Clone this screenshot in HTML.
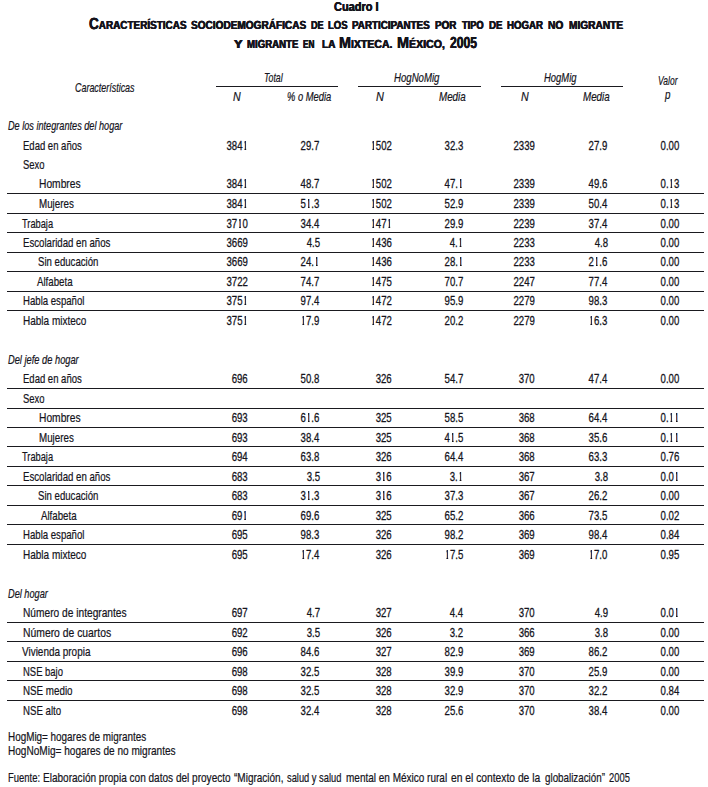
<!DOCTYPE html>
<html lang="es"><head><meta charset="utf-8"><title>Cuadro I</title>
<style>
html,body{margin:0;padding:0;background:#fff;}
body{width:708px;height:787px;position:relative;overflow:hidden;font-family:"Liberation Sans",sans-serif;color:#15141c;}
.t{position:absolute;white-space:nowrap;font-size:13px;line-height:16px;height:16px;display:block;transform-origin:0 0;-webkit-text-stroke:0.22px #15141c;}
.t.r{transform-origin:100% 0;-webkit-text-stroke-width:0.3px;}
.i{font-style:italic;}
.o{display:inline-block;clip-path:inset(3.1px 0.19em 4px 0.214em);-webkit-text-stroke:0.7px #15141c;}
.b{font-weight:bold;-webkit-text-stroke:0;text-shadow:0.35px 0 0 #15141c,-0.35px 0 0 #15141c;}
.T{text-rendering:geometricPrecision;font-size:16px;line-height:20px;height:20px;}
.sc{font-size:11.7px;line-height:0;}
.h{position:absolute;height:1px;background:#1a1a1f;}
</style></head><body>

<div class="t b" style="left:333.80px;top:-1px;transform:scaleX(0.8459)">Cuadro I</div>
<div class="t b T" style="left:89.40px;top:15px;transform:scaleX(0.8493)">C<span class="sc">ARACTERÍSTICAS</span></div>
<div class="t b T" style="left:191.00px;top:15px;transform:scaleX(0.8610)"><span class="sc">SOCIODEMOGRÁFICAS</span></div>
<div class="t b T" style="left:310.90px;top:15px;transform:scaleX(0.7815)"><span class="sc">DE</span></div>
<div class="t b T" style="left:328.10px;top:15px;transform:scaleX(0.8148)"><span class="sc">LOS</span></div>
<div class="t b T" style="left:352.00px;top:15px;transform:scaleX(0.8409)"><span class="sc">PARTICIPANTES</span></div>
<div class="t b T" style="left:435.20px;top:15px;transform:scaleX(0.8480)"><span class="sc">POR</span></div>
<div class="t b T" style="left:461.80px;top:15px;transform:scaleX(0.7910)"><span class="sc">TIPO</span></div>
<div class="t b T" style="left:488.50px;top:15px;transform:scaleX(0.8307)"><span class="sc">DE</span></div>
<div class="t b T" style="left:507.00px;top:15px;transform:scaleX(0.8290)"><span class="sc">HOGAR</span></div>
<div class="t b T" style="left:548.20px;top:15px;transform:scaleX(0.8718)"><span class="sc">NO</span></div>
<div class="t b T" style="left:568.60px;top:15px;transform:scaleX(0.8686)"><span class="sc">MIGRANTE</span></div>
<div class="t b T" style="left:234.40px;top:34px;transform:scaleX(1.1020)"><span class="sc">Y</span></div>
<div class="t b T" style="left:247.30px;top:34px;transform:scaleX(0.8238)"><span class="sc">MIGRANTE</span></div>
<div class="t b T" style="left:302.90px;top:34px;transform:scaleX(0.7015)"><span class="sc">EN</span></div>
<div class="t b T" style="left:321.60px;top:34px;transform:scaleX(0.8592)"><span class="sc">LA</span></div>
<div class="t b T" style="left:339.10px;top:34px;transform:scaleX(0.8994)">M<span class="sc">IXTECA.</span></div>
<div class="t b T" style="left:396.60px;top:34px;transform:scaleX(0.9039)">M<span class="sc">ÉXICO,</span></div>
<div class="t b T" style="left:449.50px;top:34px;transform:scaleX(0.7584)">2005</div>
<div class="t i" style="top:80px;transform:scaleX(0.7038);font-size:12.7px;left:74.70px;">Características</div>
<div class="t i" style="top:70px;transform:scaleX(0.6909);font-size:12.7px;left:264.20px;">Total</div>
<div class="t i" style="top:70px;transform:scaleX(0.7584);font-size:12.7px;left:394.00px;">HogNoMig</div>
<div class="t i" style="top:70px;transform:scaleX(0.7426);font-size:12.7px;left:543.80px;">HogMig</div>
<div class="t i" style="top:89px;transform:scaleX(0.8386);font-size:12.7px;left:233.00px;">N</div>
<div class="t i" style="top:89px;transform:scaleX(0.7366);font-size:12.7px;left:287.20px;">% o Media</div>
<div class="t i" style="top:89px;transform:scaleX(0.8604);font-size:12.7px;left:376.40px;">N</div>
<div class="t i" style="top:89px;transform:scaleX(0.7718);font-size:12.7px;left:439.00px;">Media</div>
<div class="t i" style="top:89px;transform:scaleX(0.8386);font-size:12.7px;left:520.50px;">N</div>
<div class="t i" style="top:89px;transform:scaleX(0.7718);font-size:12.7px;left:582.70px;">Media</div>
<div class="t i" style="top:73px;transform:scaleX(0.6688);font-size:12.7px;left:658.20px;">Valor</div>
<div class="t i" style="top:87px;transform:scaleX(0.7725);font-size:12.7px;left:664.85px;">p</div>
<div class="t i" style="top:118px;transform:scaleX(0.7207);font-size:12.7px;left:7.90px;">De los integrantes del hogar</div>
<div class="t i" style="top:352px;transform:scaleX(0.7318);font-size:12.7px;left:7.90px;">Del jefe de hogar</div>
<div class="t i" style="top:586px;transform:scaleX(0.7243);font-size:12.7px;left:7.90px;">Del hogar</div>
<div class="t" style="top:138px;transform:scaleX(0.7501);font-size:12.7px;left:23.00px;">Edad en años</div>
<div class="t r" style="top:138px;transform:scaleX(0.7406);right:460.20px;">384<span class="o">1</span></div>
<div class="t r" style="top:138px;transform:scaleX(0.7406);right:388.40px;">29.7</div>
<div class="t r" style="top:138px;transform:scaleX(0.7406);right:316.40px;"><span class="o">1</span>502</div>
<div class="t r" style="top:138px;transform:scaleX(0.7406);right:245.00px;">32.3</div>
<div class="t r" style="top:138px;transform:scaleX(0.7406);right:173.10px;">2339</div>
<div class="t r" style="top:138px;transform:scaleX(0.7406);right:100.40px;">27.9</div>
<div class="t r" style="top:138px;transform:scaleX(0.7406);right:29.20px;">0.00</div>
<div class="t" style="top:157px;transform:scaleX(0.7463);font-size:12.7px;left:23.00px;">Sexo</div>
<div class="t" style="top:176px;transform:scaleX(0.8074);font-size:12.7px;left:38.60px;">Hombres</div>
<div class="t r" style="top:176px;transform:scaleX(0.7406);right:460.20px;">384<span class="o">1</span></div>
<div class="t r" style="top:176px;transform:scaleX(0.7406);right:388.40px;">48.7</div>
<div class="t r" style="top:176px;transform:scaleX(0.7406);right:316.40px;"><span class="o">1</span>502</div>
<div class="t r" style="top:176px;transform:scaleX(0.7406);right:245.00px;">47.<span class="o">1</span></div>
<div class="t r" style="top:176px;transform:scaleX(0.7406);right:173.10px;">2339</div>
<div class="t r" style="top:176px;transform:scaleX(0.7406);right:100.40px;">49.6</div>
<div class="t r" style="top:176px;transform:scaleX(0.7406);right:29.20px;">0.<span class="o">1</span>3</div>
<div class="t" style="top:196px;transform:scaleX(0.7704);font-size:12.7px;left:38.60px;">Mujeres</div>
<div class="t r" style="top:196px;transform:scaleX(0.7406);right:460.20px;">384<span class="o">1</span></div>
<div class="t r" style="top:196px;transform:scaleX(0.7406);right:388.40px;">5<span class="o">1</span>.3</div>
<div class="t r" style="top:196px;transform:scaleX(0.7406);right:316.40px;"><span class="o">1</span>502</div>
<div class="t r" style="top:196px;transform:scaleX(0.7406);right:245.00px;">52.9</div>
<div class="t r" style="top:196px;transform:scaleX(0.7406);right:173.10px;">2339</div>
<div class="t r" style="top:196px;transform:scaleX(0.7406);right:100.40px;">50.4</div>
<div class="t r" style="top:196px;transform:scaleX(0.7406);right:29.20px;">0.<span class="o">1</span>3</div>
<div class="t" style="top:216px;transform:scaleX(0.7301);font-size:12.7px;left:22.40px;">Trabaja</div>
<div class="t r" style="top:216px;transform:scaleX(0.7406);right:460.20px;">37<span class="o">1</span>0</div>
<div class="t r" style="top:216px;transform:scaleX(0.7406);right:388.40px;">34.4</div>
<div class="t r" style="top:216px;transform:scaleX(0.7406);right:316.40px;"><span class="o">1</span>47<span class="o">1</span></div>
<div class="t r" style="top:216px;transform:scaleX(0.7406);right:245.00px;">29.9</div>
<div class="t r" style="top:216px;transform:scaleX(0.7406);right:173.10px;">2239</div>
<div class="t r" style="top:216px;transform:scaleX(0.7406);right:100.40px;">37.4</div>
<div class="t r" style="top:216px;transform:scaleX(0.7406);right:29.20px;">0.00</div>
<div class="t" style="top:235px;transform:scaleX(0.7594);font-size:12.7px;left:23.30px;">Escolaridad en años</div>
<div class="t r" style="top:235px;transform:scaleX(0.7406);right:460.20px;">3669</div>
<div class="t r" style="top:235px;transform:scaleX(0.7406);right:388.40px;">4.5</div>
<div class="t r" style="top:235px;transform:scaleX(0.7406);right:316.40px;"><span class="o">1</span>436</div>
<div class="t r" style="top:235px;transform:scaleX(0.7406);right:245.00px;">4.<span class="o">1</span></div>
<div class="t r" style="top:235px;transform:scaleX(0.7406);right:173.10px;">2233</div>
<div class="t r" style="top:235px;transform:scaleX(0.7406);right:100.40px;">4.8</div>
<div class="t r" style="top:235px;transform:scaleX(0.7406);right:29.20px;">0.00</div>
<div class="t" style="top:254px;transform:scaleX(0.7571);font-size:12.7px;left:38.20px;">Sin educación</div>
<div class="t r" style="top:254px;transform:scaleX(0.7406);right:460.20px;">3669</div>
<div class="t r" style="top:254px;transform:scaleX(0.7406);right:388.40px;">24.<span class="o">1</span></div>
<div class="t r" style="top:254px;transform:scaleX(0.7406);right:316.40px;"><span class="o">1</span>436</div>
<div class="t r" style="top:254px;transform:scaleX(0.7406);right:245.00px;">28.<span class="o">1</span></div>
<div class="t r" style="top:254px;transform:scaleX(0.7406);right:173.10px;">2233</div>
<div class="t r" style="top:254px;transform:scaleX(0.7406);right:100.40px;">2<span class="o">1</span>.6</div>
<div class="t r" style="top:254px;transform:scaleX(0.7406);right:29.20px;">0.00</div>
<div class="t" style="top:274px;transform:scaleX(0.7638);font-size:12.7px;left:37.30px;">Alfabeta</div>
<div class="t r" style="top:274px;transform:scaleX(0.7406);right:460.20px;">3722</div>
<div class="t r" style="top:274px;transform:scaleX(0.7406);right:388.40px;">74.7</div>
<div class="t r" style="top:274px;transform:scaleX(0.7406);right:316.40px;"><span class="o">1</span>475</div>
<div class="t r" style="top:274px;transform:scaleX(0.7406);right:245.00px;">70.7</div>
<div class="t r" style="top:274px;transform:scaleX(0.7406);right:173.10px;">2247</div>
<div class="t r" style="top:274px;transform:scaleX(0.7406);right:100.40px;">77.4</div>
<div class="t r" style="top:274px;transform:scaleX(0.7406);right:29.20px;">0.00</div>
<div class="t" style="top:293px;transform:scaleX(0.7574);font-size:12.7px;left:23.30px;">Habla español</div>
<div class="t r" style="top:293px;transform:scaleX(0.7406);right:460.20px;">375<span class="o">1</span></div>
<div class="t r" style="top:293px;transform:scaleX(0.7406);right:388.40px;">97.4</div>
<div class="t r" style="top:293px;transform:scaleX(0.7406);right:316.40px;"><span class="o">1</span>472</div>
<div class="t r" style="top:293px;transform:scaleX(0.7406);right:245.00px;">95.9</div>
<div class="t r" style="top:293px;transform:scaleX(0.7406);right:173.10px;">2279</div>
<div class="t r" style="top:293px;transform:scaleX(0.7406);right:100.40px;">98.3</div>
<div class="t r" style="top:293px;transform:scaleX(0.7406);right:29.20px;">0.00</div>
<div class="t" style="top:313px;transform:scaleX(0.7879);font-size:12.7px;left:23.30px;">Habla mixteco</div>
<div class="t r" style="top:313px;transform:scaleX(0.7406);right:460.20px;">375<span class="o">1</span></div>
<div class="t r" style="top:313px;transform:scaleX(0.7406);right:388.40px;"><span class="o">1</span>7.9</div>
<div class="t r" style="top:313px;transform:scaleX(0.7406);right:316.40px;"><span class="o">1</span>472</div>
<div class="t r" style="top:313px;transform:scaleX(0.7406);right:245.00px;">20.2</div>
<div class="t r" style="top:313px;transform:scaleX(0.7406);right:173.10px;">2279</div>
<div class="t r" style="top:313px;transform:scaleX(0.7406);right:100.40px;"><span class="o">1</span>6.3</div>
<div class="t r" style="top:313px;transform:scaleX(0.7406);right:29.20px;">0.00</div>
<div class="t" style="top:371px;transform:scaleX(0.7501);font-size:12.7px;left:23.00px;">Edad en años</div>
<div class="t r" style="top:371px;transform:scaleX(0.7406);right:460.20px;">696</div>
<div class="t r" style="top:371px;transform:scaleX(0.7406);right:388.40px;">50.8</div>
<div class="t r" style="top:371px;transform:scaleX(0.7406);right:316.40px;">326</div>
<div class="t r" style="top:371px;transform:scaleX(0.7406);right:245.00px;">54.7</div>
<div class="t r" style="top:371px;transform:scaleX(0.7406);right:173.10px;">370</div>
<div class="t r" style="top:371px;transform:scaleX(0.7406);right:100.40px;">47.4</div>
<div class="t r" style="top:371px;transform:scaleX(0.7406);right:29.20px;">0.00</div>
<div class="t" style="top:391px;transform:scaleX(0.7463);font-size:12.7px;left:23.00px;">Sexo</div>
<div class="t" style="top:410px;transform:scaleX(0.8074);font-size:12.7px;left:38.60px;">Hombres</div>
<div class="t r" style="top:410px;transform:scaleX(0.7406);right:460.20px;">693</div>
<div class="t r" style="top:410px;transform:scaleX(0.7406);right:388.40px;">6<span class="o">1</span>.6</div>
<div class="t r" style="top:410px;transform:scaleX(0.7406);right:316.40px;">325</div>
<div class="t r" style="top:410px;transform:scaleX(0.7406);right:245.00px;">58.5</div>
<div class="t r" style="top:410px;transform:scaleX(0.7406);right:173.10px;">368</div>
<div class="t r" style="top:410px;transform:scaleX(0.7406);right:100.40px;">64.4</div>
<div class="t r" style="top:410px;transform:scaleX(0.7406);right:29.20px;">0.<span class="o">1</span><span class="o">1</span></div>
<div class="t" style="top:430px;transform:scaleX(0.7704);font-size:12.7px;left:38.60px;">Mujeres</div>
<div class="t r" style="top:430px;transform:scaleX(0.7406);right:460.20px;">693</div>
<div class="t r" style="top:430px;transform:scaleX(0.7406);right:388.40px;">38.4</div>
<div class="t r" style="top:430px;transform:scaleX(0.7406);right:316.40px;">325</div>
<div class="t r" style="top:430px;transform:scaleX(0.7406);right:245.00px;">4<span class="o">1</span>.5</div>
<div class="t r" style="top:430px;transform:scaleX(0.7406);right:173.10px;">368</div>
<div class="t r" style="top:430px;transform:scaleX(0.7406);right:100.40px;">35.6</div>
<div class="t r" style="top:430px;transform:scaleX(0.7406);right:29.20px;">0.<span class="o">1</span><span class="o">1</span></div>
<div class="t" style="top:449px;transform:scaleX(0.7301);font-size:12.7px;left:22.40px;">Trabaja</div>
<div class="t r" style="top:449px;transform:scaleX(0.7406);right:460.20px;">694</div>
<div class="t r" style="top:449px;transform:scaleX(0.7406);right:388.40px;">63.8</div>
<div class="t r" style="top:449px;transform:scaleX(0.7406);right:316.40px;">326</div>
<div class="t r" style="top:449px;transform:scaleX(0.7406);right:245.00px;">64.4</div>
<div class="t r" style="top:449px;transform:scaleX(0.7406);right:173.10px;">368</div>
<div class="t r" style="top:449px;transform:scaleX(0.7406);right:100.40px;">63.3</div>
<div class="t r" style="top:449px;transform:scaleX(0.7406);right:29.20px;">0.76</div>
<div class="t" style="top:469px;transform:scaleX(0.7594);font-size:12.7px;left:23.30px;">Escolaridad en años</div>
<div class="t r" style="top:469px;transform:scaleX(0.7406);right:460.20px;">683</div>
<div class="t r" style="top:469px;transform:scaleX(0.7406);right:388.40px;">3.5</div>
<div class="t r" style="top:469px;transform:scaleX(0.7406);right:316.40px;">3<span class="o">1</span>6</div>
<div class="t r" style="top:469px;transform:scaleX(0.7406);right:245.00px;">3.<span class="o">1</span></div>
<div class="t r" style="top:469px;transform:scaleX(0.7406);right:173.10px;">367</div>
<div class="t r" style="top:469px;transform:scaleX(0.7406);right:100.40px;">3.8</div>
<div class="t r" style="top:469px;transform:scaleX(0.7406);right:29.20px;">0.0<span class="o">1</span></div>
<div class="t" style="top:488px;transform:scaleX(0.7571);font-size:12.7px;left:38.20px;">Sin educación</div>
<div class="t r" style="top:488px;transform:scaleX(0.7406);right:460.20px;">683</div>
<div class="t r" style="top:488px;transform:scaleX(0.7406);right:388.40px;">3<span class="o">1</span>.3</div>
<div class="t r" style="top:488px;transform:scaleX(0.7406);right:316.40px;">3<span class="o">1</span>6</div>
<div class="t r" style="top:488px;transform:scaleX(0.7406);right:245.00px;">37.3</div>
<div class="t r" style="top:488px;transform:scaleX(0.7406);right:173.10px;">367</div>
<div class="t r" style="top:488px;transform:scaleX(0.7406);right:100.40px;">26.2</div>
<div class="t r" style="top:488px;transform:scaleX(0.7406);right:29.20px;">0.00</div>
<div class="t" style="top:508px;transform:scaleX(0.7638);font-size:12.7px;left:40.60px;">Alfabeta</div>
<div class="t r" style="top:508px;transform:scaleX(0.7406);right:460.20px;">69<span class="o">1</span></div>
<div class="t r" style="top:508px;transform:scaleX(0.7406);right:388.40px;">69.6</div>
<div class="t r" style="top:508px;transform:scaleX(0.7406);right:316.40px;">325</div>
<div class="t r" style="top:508px;transform:scaleX(0.7406);right:245.00px;">65.2</div>
<div class="t r" style="top:508px;transform:scaleX(0.7406);right:173.10px;">366</div>
<div class="t r" style="top:508px;transform:scaleX(0.7406);right:100.40px;">73.5</div>
<div class="t r" style="top:508px;transform:scaleX(0.7406);right:29.20px;">0.02</div>
<div class="t" style="top:527px;transform:scaleX(0.7574);font-size:12.7px;left:23.30px;">Habla español</div>
<div class="t r" style="top:527px;transform:scaleX(0.7406);right:460.20px;">695</div>
<div class="t r" style="top:527px;transform:scaleX(0.7406);right:388.40px;">98.3</div>
<div class="t r" style="top:527px;transform:scaleX(0.7406);right:316.40px;">326</div>
<div class="t r" style="top:527px;transform:scaleX(0.7406);right:245.00px;">98.2</div>
<div class="t r" style="top:527px;transform:scaleX(0.7406);right:173.10px;">369</div>
<div class="t r" style="top:527px;transform:scaleX(0.7406);right:100.40px;">98.4</div>
<div class="t r" style="top:527px;transform:scaleX(0.7406);right:29.20px;">0.84</div>
<div class="t" style="top:547px;transform:scaleX(0.7879);font-size:12.7px;left:23.30px;">Habla mixteco</div>
<div class="t r" style="top:547px;transform:scaleX(0.7406);right:460.20px;">695</div>
<div class="t r" style="top:547px;transform:scaleX(0.7406);right:388.40px;"><span class="o">1</span>7.4</div>
<div class="t r" style="top:547px;transform:scaleX(0.7406);right:316.40px;">326</div>
<div class="t r" style="top:547px;transform:scaleX(0.7406);right:245.00px;"><span class="o">1</span>7.5</div>
<div class="t r" style="top:547px;transform:scaleX(0.7406);right:173.10px;">369</div>
<div class="t r" style="top:547px;transform:scaleX(0.7406);right:100.40px;"><span class="o">1</span>7.0</div>
<div class="t r" style="top:547px;transform:scaleX(0.7406);right:29.20px;">0.95</div>
<div class="t" style="top:605px;transform:scaleX(0.8027);font-size:12.7px;left:23.30px;">Número de integrantes</div>
<div class="t r" style="top:605px;transform:scaleX(0.7406);right:460.20px;">697</div>
<div class="t r" style="top:605px;transform:scaleX(0.7406);right:388.40px;">4.7</div>
<div class="t r" style="top:605px;transform:scaleX(0.7406);right:316.40px;">327</div>
<div class="t r" style="top:605px;transform:scaleX(0.7406);right:245.00px;">4.4</div>
<div class="t r" style="top:605px;transform:scaleX(0.7406);right:173.10px;">370</div>
<div class="t r" style="top:605px;transform:scaleX(0.7406);right:100.40px;">4.9</div>
<div class="t r" style="top:605px;transform:scaleX(0.7406);right:29.20px;">0.0<span class="o">1</span></div>
<div class="t" style="top:625px;transform:scaleX(0.8167);font-size:12.7px;left:23.30px;">Número de cuartos</div>
<div class="t r" style="top:625px;transform:scaleX(0.7406);right:460.20px;">692</div>
<div class="t r" style="top:625px;transform:scaleX(0.7406);right:388.40px;">3.5</div>
<div class="t r" style="top:625px;transform:scaleX(0.7406);right:316.40px;">326</div>
<div class="t r" style="top:625px;transform:scaleX(0.7406);right:245.00px;">3.2</div>
<div class="t r" style="top:625px;transform:scaleX(0.7406);right:173.10px;">366</div>
<div class="t r" style="top:625px;transform:scaleX(0.7406);right:100.40px;">3.8</div>
<div class="t r" style="top:625px;transform:scaleX(0.7406);right:29.20px;">0.00</div>
<div class="t" style="top:644px;transform:scaleX(0.7844);font-size:12.7px;left:21.50px;">Vivienda propia</div>
<div class="t r" style="top:644px;transform:scaleX(0.7406);right:460.20px;">696</div>
<div class="t r" style="top:644px;transform:scaleX(0.7406);right:388.40px;">84.6</div>
<div class="t r" style="top:644px;transform:scaleX(0.7406);right:316.40px;">327</div>
<div class="t r" style="top:644px;transform:scaleX(0.7406);right:245.00px;">82.9</div>
<div class="t r" style="top:644px;transform:scaleX(0.7406);right:173.10px;">369</div>
<div class="t r" style="top:644px;transform:scaleX(0.7406);right:100.40px;">86.2</div>
<div class="t r" style="top:644px;transform:scaleX(0.7406);right:29.20px;">0.00</div>
<div class="t" style="top:664px;transform:scaleX(0.7455);font-size:12.7px;left:23.30px;">NSE bajo</div>
<div class="t r" style="top:664px;transform:scaleX(0.7406);right:460.20px;">698</div>
<div class="t r" style="top:664px;transform:scaleX(0.7406);right:388.40px;">32.5</div>
<div class="t r" style="top:664px;transform:scaleX(0.7406);right:316.40px;">328</div>
<div class="t r" style="top:664px;transform:scaleX(0.7406);right:245.00px;">39.9</div>
<div class="t r" style="top:664px;transform:scaleX(0.7406);right:173.10px;">370</div>
<div class="t r" style="top:664px;transform:scaleX(0.7406);right:100.40px;">25.9</div>
<div class="t r" style="top:664px;transform:scaleX(0.7406);right:29.20px;">0.00</div>
<div class="t" style="top:683px;transform:scaleX(0.7721);font-size:12.7px;left:23.30px;">NSE medio</div>
<div class="t r" style="top:683px;transform:scaleX(0.7406);right:460.20px;">698</div>
<div class="t r" style="top:683px;transform:scaleX(0.7406);right:388.40px;">32.5</div>
<div class="t r" style="top:683px;transform:scaleX(0.7406);right:316.40px;">328</div>
<div class="t r" style="top:683px;transform:scaleX(0.7406);right:245.00px;">32.9</div>
<div class="t r" style="top:683px;transform:scaleX(0.7406);right:173.10px;">370</div>
<div class="t r" style="top:683px;transform:scaleX(0.7406);right:100.40px;">32.2</div>
<div class="t r" style="top:683px;transform:scaleX(0.7406);right:29.20px;">0.84</div>
<div class="t" style="top:703px;transform:scaleX(0.7623);font-size:12.7px;left:23.40px;">NSE alto</div>
<div class="t r" style="top:703px;transform:scaleX(0.7406);right:460.20px;">698</div>
<div class="t r" style="top:703px;transform:scaleX(0.7406);right:388.40px;">32.4</div>
<div class="t r" style="top:703px;transform:scaleX(0.7406);right:316.40px;">328</div>
<div class="t r" style="top:703px;transform:scaleX(0.7406);right:245.00px;">25.6</div>
<div class="t r" style="top:703px;transform:scaleX(0.7406);right:173.10px;">370</div>
<div class="t r" style="top:703px;transform:scaleX(0.7406);right:100.40px;">38.4</div>
<div class="t r" style="top:703px;transform:scaleX(0.7406);right:29.20px;">0.00</div>
<div class="t" style="top:729px;transform:scaleX(0.7795);font-size:12.7px;left:7.90px;">HogMig= hogares de migrantes</div>
<div class="t" style="top:743px;transform:scaleX(0.7936);font-size:12.7px;left:7.90px;">HogNoMig= hogares de no migrantes</div>
<div class="t" style="top:770px;transform:scaleX(0.7454);font-size:12.7px;left:8.10px;">Fuente:</div>
<div class="t" style="top:770px;transform:scaleX(0.7917);font-size:12.7px;left:42.50px;">Elaboración propia con datos del proyecto</div>
<div class="t" style="top:770px;transform:scaleX(0.7880);font-size:12.7px;left:233.60px;">“Migración,</div>
<div class="t" style="top:770px;transform:scaleX(0.7338);font-size:12.7px;left:286.50px;">salud y salud</div>
<div class="t" style="top:770px;transform:scaleX(0.7878);font-size:12.7px;left:345.60px;">mental en México rural</div>
<div class="t" style="top:770px;transform:scaleX(0.8106);font-size:12.7px;left:451.40px;">en el contexto de la</div>
<div class="t" style="top:770px;transform:scaleX(0.7726);font-size:12.7px;left:545.00px;">globalización”</div>
<div class="t" style="top:770px;transform:scaleX(0.7396);font-size:12.7px;left:609.30px;">2005</div>
<div class="h" style="left:7.0px;top:193px;width:697.0px"></div>
<div class="h" style="left:7.0px;top:213px;width:697.0px"></div>
<div class="h" style="left:7.0px;top:232px;width:697.0px"></div>
<div class="h" style="left:7.0px;top:252px;width:697.0px"></div>
<div class="h" style="left:7.0px;top:271px;width:697.0px"></div>
<div class="h" style="left:7.0px;top:291px;width:697.0px"></div>
<div class="h" style="left:7.0px;top:310px;width:697.0px"></div>
<div class="h" style="left:7.0px;top:388px;width:697.0px"></div>
<div class="h" style="left:7.0px;top:408px;width:697.0px"></div>
<div class="h" style="left:7.0px;top:427px;width:697.0px"></div>
<div class="h" style="left:7.0px;top:446px;width:697.0px"></div>
<div class="h" style="left:7.0px;top:466px;width:697.0px"></div>
<div class="h" style="left:7.0px;top:485px;width:697.0px"></div>
<div class="h" style="left:7.0px;top:505px;width:697.0px"></div>
<div class="h" style="left:7.0px;top:524px;width:697.0px"></div>
<div class="h" style="left:7.0px;top:544px;width:697.0px"></div>
<div class="h" style="left:7.0px;top:622px;width:697.0px"></div>
<div class="h" style="left:7.0px;top:641px;width:697.0px"></div>
<div class="h" style="left:7.0px;top:661px;width:697.0px"></div>
<div class="h" style="left:7.0px;top:680px;width:697.0px"></div>
<div class="h" style="left:7.0px;top:700px;width:697.0px"></div>
<div class="h" style="left:216.0px;top:86px;width:122.0px"></div>
<div class="h" style="left:358.0px;top:86px;width:123.0px"></div>
<div class="h" style="left:501.0px;top:86px;width:122.0px"></div>
</body></html>
